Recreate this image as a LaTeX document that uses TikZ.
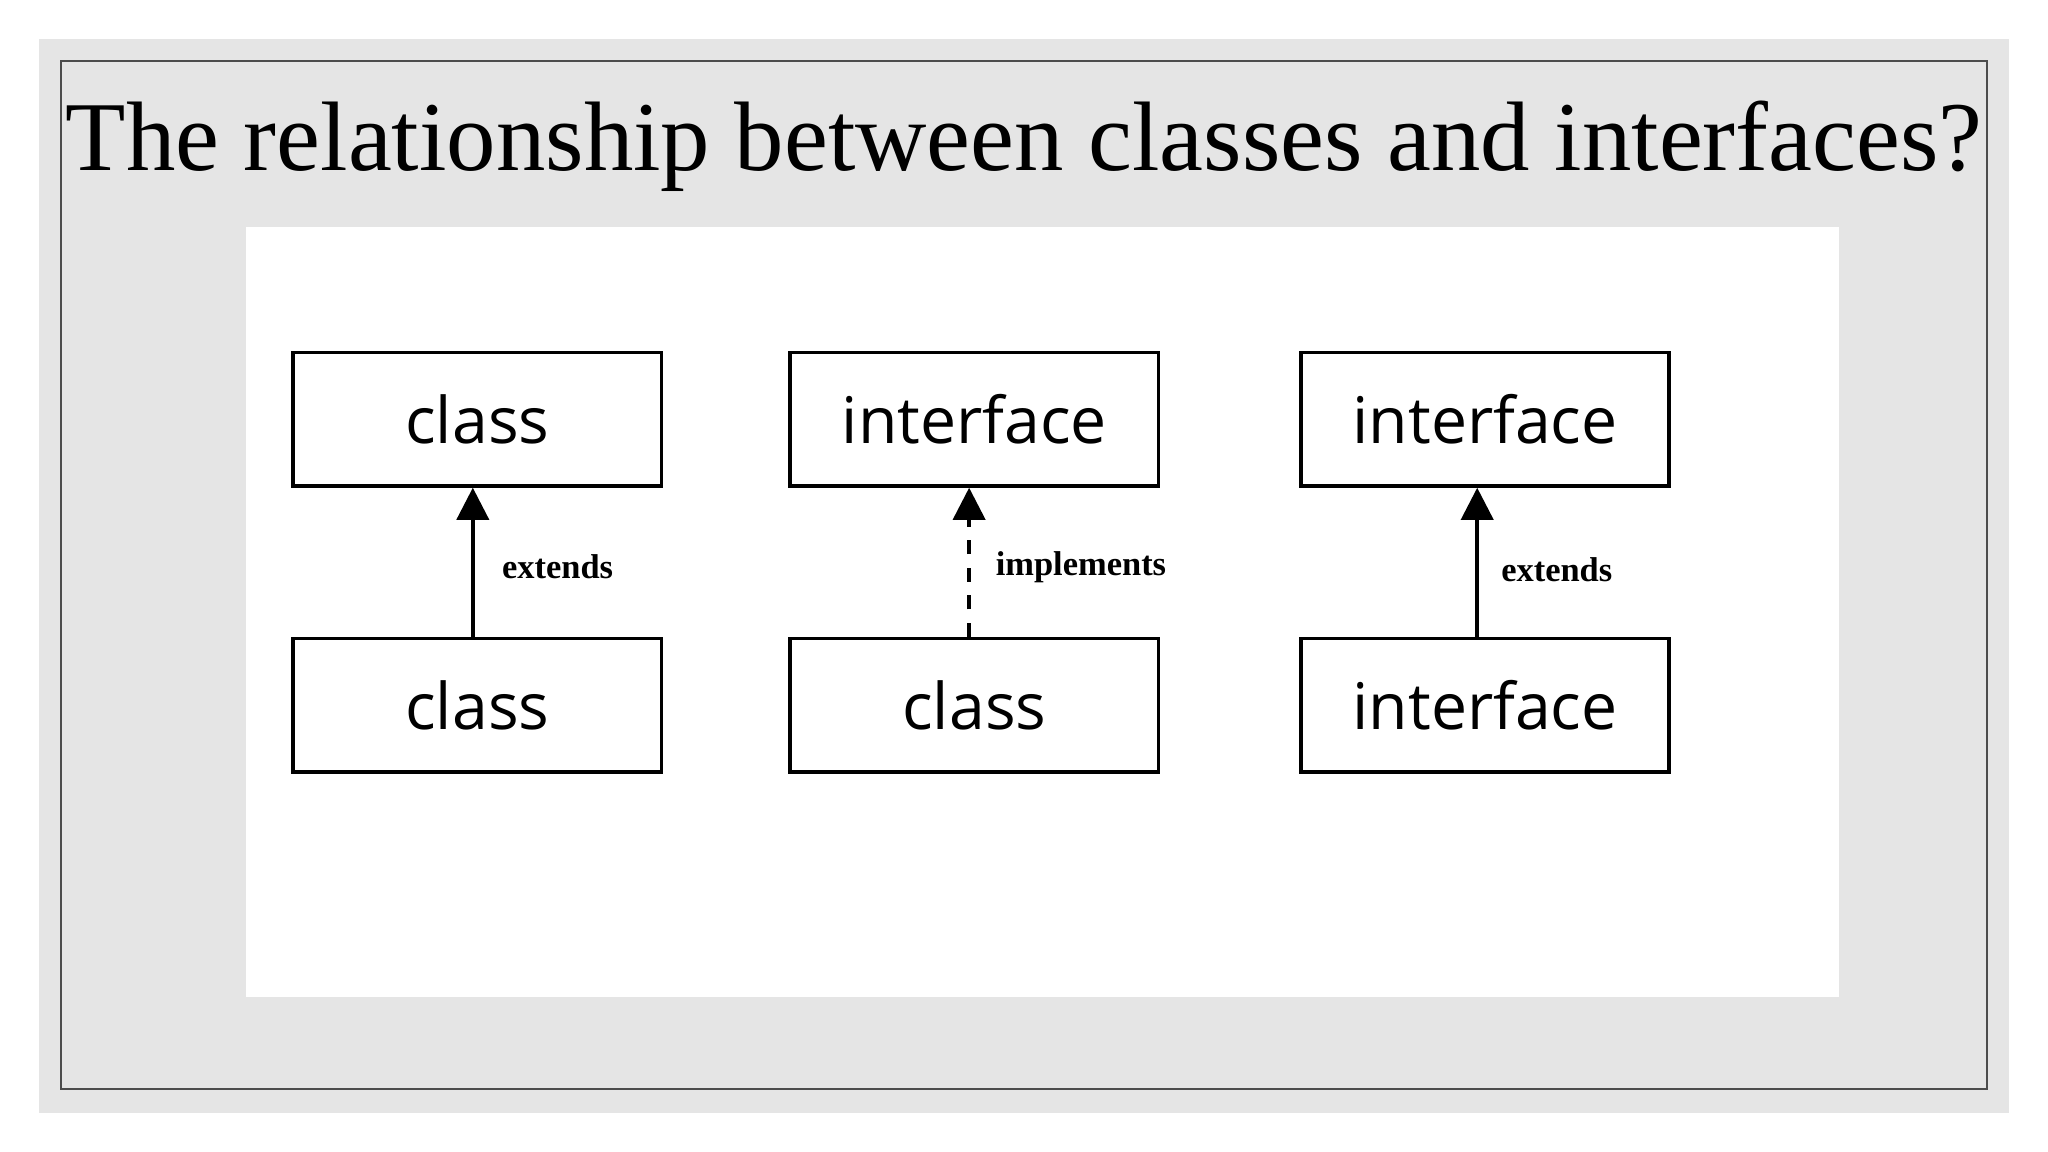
\documentclass[tikz,border=0pt]{standalone}
\usepackage{fontspec}
\setmainfont{Liberation Serif}
\newfontfamily\boxfont{Open Sans}
\usetikzlibrary{arrows.meta}
\tikzset{
	umlbox/.style={draw,thick,minimum width=2.82cm,minimum height=1.02cm,inner sep=0pt,font=\boxfont\fontsize{14}{16}\selectfont},
	rel/.style={thick,-{Triangle[width=7pt,length=7pt]}},
	rellabel/.style={font=\bfseries\fontsize{7.5}{9}\selectfont,anchor=west}
}
\begin{document}
\begin{tikzpicture}[x=0.01cm,y=-0.01cm]
	\useasboundingbox (0,0) rectangle (1568,882);
	\fill[white] (0,0) rectangle (1568,882);
	\fill[black!10] (30,30) rectangle (1538,852);
	\draw[black!70,thin] (47,47) rectangle (1521,834);
	\node (title) at (784,112){\fontsize{21.5}{26}\selectfont The relationship between classes and interfaces?};
	\fill[white] (188,174) rectangle (1408,763);
	
	\node[umlbox] at (365.5,321)(c1){class};
	\node[umlbox] at (365.5,540)(c2){class};
	\draw[rel](c2.north-|362,0)--(c1.south-|362,0);
	\node[rellabel] at (372,434)(e1){extends};
	
	\node[umlbox] at (746,321)(i1){interface};
	\node[umlbox] at (746,540)(c3){class};
	\draw[rel,dashed](c3.north-|742,0)--(i1.south-|742,0);
	\node[rellabel] at (750,434)(im){implements};
	
	\node[umlbox] at (1137,321)(i2){interface};
	\node[umlbox] at (1137,540)(i3){interface};
	\draw[rel](i3.north-|1131,0)--(i2.south-|1131,0);
	\node[rellabel] at (1137,436)(e2){extends};
\end{tikzpicture}
\end{document}
